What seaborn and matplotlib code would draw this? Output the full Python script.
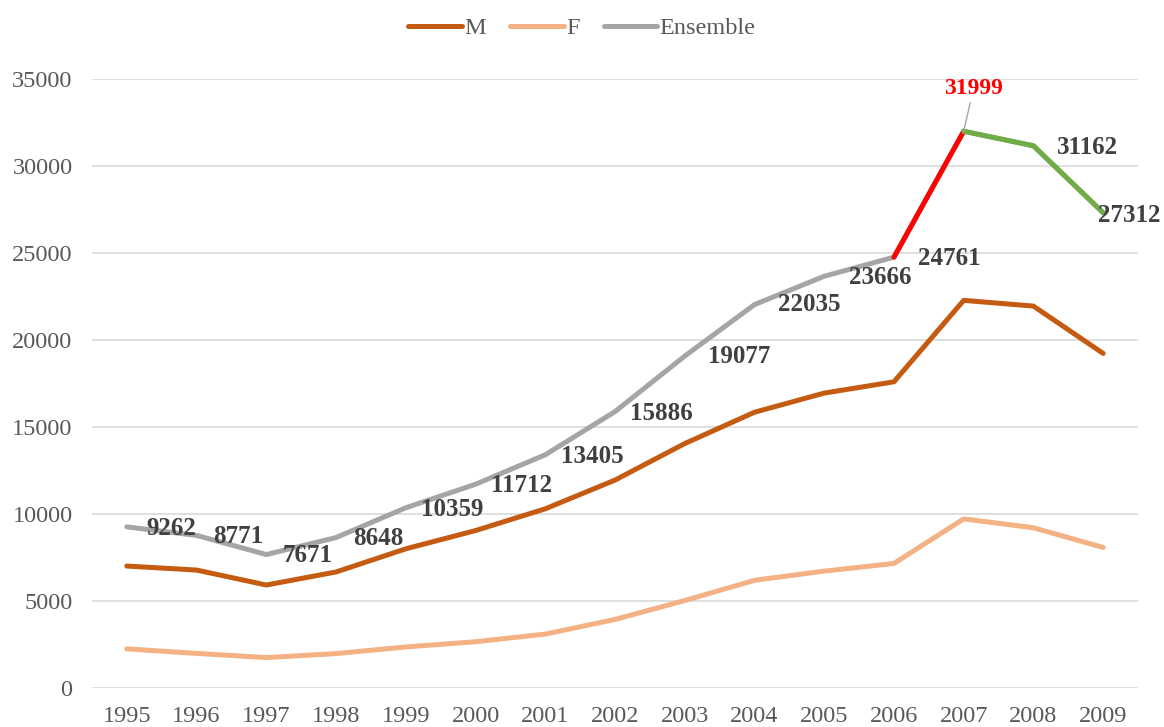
import matplotlib
matplotlib.use("Agg")
import matplotlib.pyplot as plt
import seaborn as sns
import pandas as pd

years = [1995, 1996, 1997, 1998, 1999, 2000, 2001, 2002, 2003, 2004, 2005, 2006, 2007, 2008, 2009]
ensemble = [9262, 8771, 7671, 8648, 10359, 11712, 13405, 15886, 19077, 22035, 23666, 24761, 31999, 31162, 27312]
m_values = [7010, 6780, 5920, 6670, 8000, 9050, 10300, 11950, 14050, 15850, 16950, 17600, 22280, 21950, 19230]
f_values = [2250, 1990, 1750, 1980, 2360, 2660, 3100, 3940, 5030, 6190, 6720, 7160, 9720, 9210, 8080]

c_m = "#C55A11"
c_f = "#F4B183"
c_ens = "#A5A5A5"
c_up = "#FF0000"
c_down = "#70AD47"

sns.set_theme(style="white")
plt.rcParams["font.family"] = ["Liberation Serif", "DejaVu Serif"]

df = pd.DataFrame({
    "pos": list(range(len(years))) * 3,
    "value": m_values + f_values + ensemble,
    "serie": ["M"] * len(years) + ["F"] * len(years) + ["Ensemble"] * len(years),
})

fig = plt.figure(figsize=(11.64, 7.27), dpi=100)
ax = fig.add_axes([0.079, 0.0536, 0.8987, 0.8377])

sns.lineplot(data=df, x="pos", y="value", hue="serie",
             palette={"M": c_m, "F": c_f, "Ensemble": c_ens},
             linewidth=3.6, ax=ax, legend=False, solid_capstyle="round")

# segments mis en valeur
up = pd.DataFrame({"pos": [11, 12], "value": ensemble[11:13]})
down = pd.DataFrame({"pos": [12, 13, 14], "value": ensemble[12:15]})
sns.lineplot(data=up, x="pos", y="value", color=c_up, linewidth=3.6, ax=ax)
sns.lineplot(data=down, x="pos", y="value", color=c_down, linewidth=3.6, ax=ax)

# étiquettes de données
offsets = [(14, -1), (12, -1), (12, -1), (12, -1), (11, -1), (11, -1), (11, -1), (11, -1),
           (17, 0), (17, 0), (18, -1), (17, -1), (0, 0), (17, -1), (-4, -2)]
for i, v in enumerate(ensemble):
    if i == 12:
        continue
    ax.annotate(str(v), (i, v), xytext=offsets[i], textcoords="offset points",
                ha="left", va="center", fontsize=18, fontweight="bold", color="#404040")
ax.annotate(str(ensemble[12]), (12, ensemble[12]), xytext=(7, 23), textcoords="offset points",
            ha="center", va="bottom", fontsize=17, fontweight="bold", color=c_up,
            arrowprops=dict(arrowstyle="-", color="#A5A5A5", lw=1, shrinkA=0, shrinkB=0))

ax.set_xlim(-0.5, len(years) - 0.5)
ax.set_ylim(0, 35000)
ax.set_xticks(range(len(years)))
ax.set_xticklabels([str(y) for y in years])
ax.set_yticks(range(0, 35001, 5000))
ax.tick_params(axis="both", labelsize=17.5, colors="#595959", length=0)
ax.tick_params(axis="y", pad=14)
ax.tick_params(axis="x", pad=13)
ax.set_xlabel("")
ax.set_ylabel("")
ax.yaxis.grid(True, color="#D9D9D9", linewidth=1.2)
ax.set_axisbelow(True)
for s in ax.spines.values():
    s.set_visible(False)

handles = [plt.Line2D([], [], color=c, linewidth=3.6, solid_capstyle="round") for c in (c_m, c_f, c_ens)]
fig.legend(handles, ["M", "F", "Ensemble"], loc="center", bbox_to_anchor=(0.5, 0.961), ncol=3,
           frameon=False, fontsize=17.5, handlelength=2.2, handletextpad=0.1, columnspacing=1.0,
           labelcolor="#595959")

fig.savefig("out.png", dpi=100)
